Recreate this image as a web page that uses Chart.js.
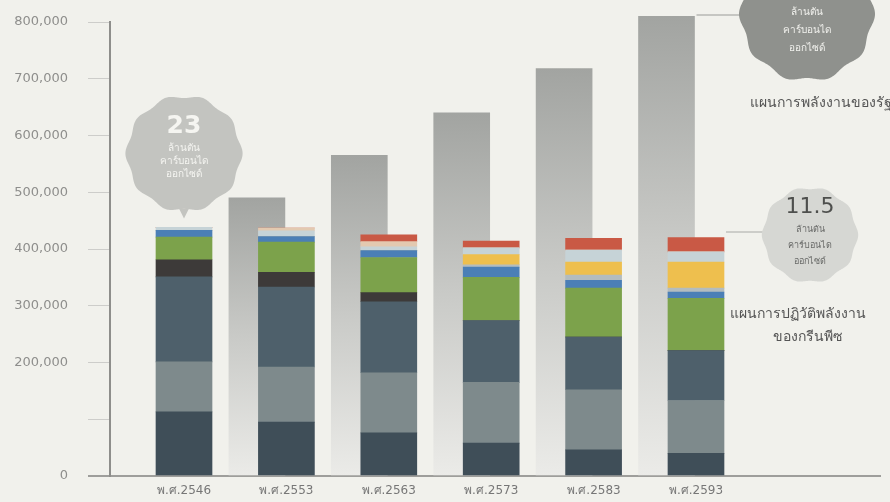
<!DOCTYPE html>
<html lang="th">
<head>
<meta charset="utf-8">
<title>แผนการพลังงาน</title>
<script src="https://cdn.jsdelivr.net/npm/chart.js@4.4.1/dist/chart.umd.min.js"></script>
<style>
    html, body { margin: 0; padding: 0; background: #f1f1ec; }
    #wrap { position: relative; width: 890px; height: 502px; }
</style>
</head>
<body>
<div id="wrap"><canvas id="energyChart"></canvas></div>
<script>
// ปีบนแกน x
const years = ['พ.ศ.2546', 'พ.ศ.2553', 'พ.ศ.2563', 'พ.ศ.2573', 'พ.ศ.2583', 'พ.ศ.2593'];

// แผนการพลังงานของรัฐ (แท่งสีเทา) ไม่มีค่าปี 2546
const statePlan = [null, 490000, 565000, 640000, 718000, 810000];

// แผนการปฏิวัติพลังงานของกรีนพีซ แยกเป็นชั้น จากล่างขึ้นบน
const slate     = [113000, 95000, 76000, 58000, 46000, 40000];
const midGrey   = [88000, 97000, 106000, 107000, 106000, 93000];
const darkBlue  = [150000, 141000, 125000, 109000, 93000, 88000];
const brown     = [30000, 26000, 16000, 0, 0, 0];
const green     = [40000, 53000, 62000, 76000, 86000, 92000];
const blue      = [12000, 10000, 12000, 18000, 14000, 11000];
const paleGrey  = [0, 0, 0, 4000, 9000, 7000];
const yellow    = [0, 0, 0, 18000, 23000, 46000];
const paleBlue  = [5000, 10000, 7000, 12000, 21000, 18000];
const tan       = [0, 5000, 9000, 0, 0, 0];
const red       = [0, 0, 12000, 12000, 21000, 25000];

// ค่าบนแกน y
const yTicks = [0, 100000, 200000, 300000, 400000, 500000, 600000, 700000, 800000];
const yTickLabels = ['0', '', '200,000', '300,000', '400,000', '500,000', '600,000', '700,000', '800,000'];

const layers = [
    { label: 'slate', data: slate, color: '#3f4e58' },
    { label: 'mid grey', data: midGrey, color: '#7e8a8c' },
    { label: 'dark blue', data: darkBlue, color: '#4e606b' },
    { label: 'brown', data: brown, color: '#3d3a39' },
    { label: 'green', data: green, color: '#7ca24b' },
    { label: 'blue', data: blue, color: '#4b7fb6' },
    { label: 'pale grey', data: paleGrey, color: '#b3bcbf' },
    { label: 'yellow', data: yellow, color: '#eebf4e' },
    { label: 'pale blue', data: paleBlue, color: '#c6d3d7' },
    { label: 'tan', data: tan, color: '#e3c9b0' },
    { label: 'red', data: red, color: '#c95945' },
];

// แท่งสีเทาไล่เฉด เข้มด้านบน จางลงด้านล่าง
function greyGradient(context) {
    const chart = context.chart;
    const area = chart.chartArea;
    if (!area || !context.parsed) return '#c4c5c2';
    const top = chart.scales.y.getPixelForValue(context.parsed.y);
    const g = chart.ctx.createLinearGradient(0, top, 0, area.bottom);
    g.addColorStop(0, '#a2a4a1');
    g.addColorStop(0.5, '#c9cac7');
    g.addColorStop(1, '#ebebe8');
    return g;
}

const datasets = layers.map(l => ({
    label: l.label,
    data: l.data.map((v, i) => ({ x: i, y: v })),
    backgroundColor: l.color,
    stack: 'revolution',
    grouped: false,
    barThickness: 56,
    order: 0
}));

datasets.push({
    label: 'แผนการพลังงานของรัฐ',
    data: statePlan.map((v, i) => ({ x: i - 0.288, y: v })).filter(p => p.y !== null),
    backgroundColor: greyGradient,
    stack: 'state',
    grouped: false,
    barThickness: 56,
    clip: false,
    order: 1
});

// ป้ายวงกลมหยักและข้อความด้านขวา
function scallop(ctx, cx, cy, r, bumps, amp) {
    ctx.beginPath();
    for (let k = 0; k <= 360; k++) {
        const t = k * Math.PI / 180;
        const rr = r + amp * Math.cos(bumps * t);
        const px = cx + rr * Math.cos(t);
        const py = cy + rr * Math.sin(t);
        if (k === 0) ctx.moveTo(px, py); else ctx.lineTo(px, py);
    }
    ctx.closePath();
}

const thaiFont = "'DejaVu Sans', 'Noto Sans', sans-serif";

const callouts = {
    id: 'callouts',
    afterDatasetsDraw(chart) {
        const ctx = chart.ctx;
        const x = chart.scales.x;
        const y = chart.scales.y;
        ctx.save();
        ctx.textAlign = 'center';
        ctx.textBaseline = 'middle';

        // ป้าย 23 เหนือแท่งปี 2546
        const bx = x.getPixelForValue(0);
        const by = y.getPixelForValue(438000) - 74;
        ctx.fillStyle = '#c3c4c0';
        scallop(ctx, bx, by, 57, 10, 1.6);
        ctx.fill();
        ctx.beginPath();
        ctx.moveTo(bx - 5, by + 55);
        ctx.lineTo(bx + 5, by + 55);
        ctx.lineTo(bx, by + 65);
        ctx.closePath();
        ctx.fill();
        ctx.fillStyle = '#f5f5f1';
        ctx.font = "bold 25px " + thaiFont;
        ctx.fillText('23', bx, by - 27);
        ctx.font = "10px " + thaiFont;
        ctx.fillText('ล้านตัน', bx, by - 5);
        ctx.fillText('คาร์บอนได', bx, by + 8);
        ctx.fillText('ออกไซด์', bx, by + 21);

        // ป้ายด้านบนขวา
        ctx.strokeStyle = '#9a9b98';
        ctx.lineWidth = 1;
        ctx.beginPath();
        ctx.moveTo(x.getPixelForValue(5 - 0.288) + 30, 15);
        ctx.lineTo(742, 15);
        ctx.stroke();
        ctx.fillStyle = '#8f918d';
        scallop(ctx, 807, 14, 66, 10, 2);
        ctx.fill();
        ctx.fillStyle = '#f2f2ee';
        ctx.font = "10px " + thaiFont;
        ctx.fillText('ล้านตัน', 807, 12);
        ctx.fillText('คาร์บอนได', 807, 30);
        ctx.fillText('ออกไซด์', 807, 48);

        ctx.fillStyle = '#555';
        ctx.font = "14px " + thaiFont;
        ctx.textAlign = 'left';
        ctx.fillText('แผนการพลังงานของรัฐ', 750, 103);

        // ป้าย 11.5
        ctx.strokeStyle = '#a8a9a6';
        ctx.beginPath();
        ctx.moveTo(x.getPixelForValue(5) + 30, 232);
        ctx.lineTo(764, 232);
        ctx.stroke();
        ctx.fillStyle = '#d6d7d3';
        scallop(ctx, 810, 235, 47, 10, 1.2);
        ctx.fill();
        ctx.textAlign = 'center';
        ctx.fillStyle = '#4e4f4d';
        ctx.font = "22px " + thaiFont;
        ctx.fillText('11.5', 810, 207);
        ctx.fillStyle = '#6a6b69';
        ctx.font = "9px " + thaiFont;
        ctx.fillText('ล้านตัน', 810, 230);
        ctx.fillText('คาร์บอนได', 810, 246);
        ctx.fillText('ออกไซด์', 810, 262);

        ctx.fillStyle = '#555';
        ctx.font = "14px " + thaiFont;
        ctx.textAlign = 'left';
        ctx.fillText('แผนการปฏิวัติพลังงาน', 730, 314);
        ctx.textAlign = 'center';
        ctx.fillText('ของกรีนพีซ', 808, 337);
        ctx.restore();
    }
};

const chart = new Chart(document.getElementById('energyChart'), {
    type: 'bar',
    data: { datasets: datasets },
    plugins: [callouts],
    options: {
        responsive: true,
        maintainAspectRatio: false,
        animation: false,
        layout: { padding: { left: 10, right: 10, top: 22, bottom: 0 } },
        plugins: {
            legend: { display: false },
            tooltip: { enabled: false }
        },
        scales: {
            x: {
                type: 'linear',
                stacked: true,
                offset: false,
                min: -0.7227,
                max: 6.797,
                afterBuildTicks: axis => {
                    axis.ticks = years.map((_, i) => ({ value: i }));
                },
                afterFit: axis => { axis.height = 26; },
                ticks: {
                    autoSkip: false,
                    maxRotation: 0,
                    padding: 8,
                    color: '#777',
                    font: { family: thaiFont, size: 12 },
                    callback: value => years[value]
                },
                grid: { display: false, drawTicks: false, offset: false },
                border: { display: true, color: '#9e9e9b', width: 2 }
            },
            y: {
                stacked: true,
                min: 0,
                max: 800000,
                afterBuildTicks: axis => {
                    axis.ticks = yTicks.map(v => ({ value: v }));
                },
                afterFit: axis => {
                    axis.width = 100;
                    axis.paddingTop = 6;
                    axis.paddingBottom = 6;
                },
                ticks: {
                    padding: 20,
                    color: '#8e8e8c',
                    font: { family: "'DejaVu Sans', sans-serif", size: 13 },
                    callback: (value, index) => yTickLabels[index]
                },
                grid: {
                    drawOnChartArea: false,
                    tickLength: 22,
                    color: ctx => ctx.tick && ctx.tick.value === 0 ? '#9e9e9b' : '#cdcdca',
                    lineWidth: ctx => ctx.tick && ctx.tick.value === 0 ? 2 : 1
                },
                border: { display: true, color: '#8e8e8b', width: 2 }
            }
        }
    }
});
</script>
</body>
</html>
